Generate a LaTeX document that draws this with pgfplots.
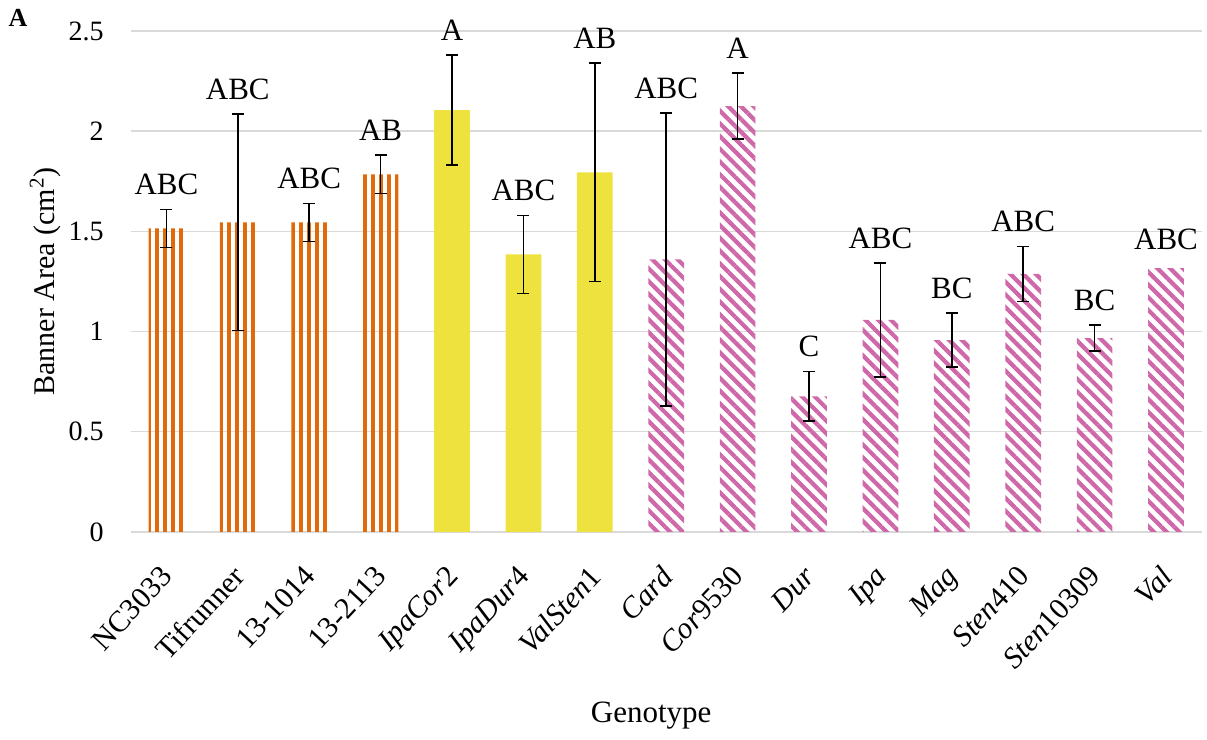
\documentclass[border=0pt]{standalone}
\usepackage{fontspec}
\setmainfont{Liberation Serif}
\usepackage{pgfplots}
\pgfplotsset{compat=1.18}
\usetikzlibrary{patterns,patterns.meta}

\definecolor{barorange}{RGB}{224,106,10}
\definecolor{baryellow}{RGB}{238,226,62}
\definecolor{barpink}{RGB}{206,104,168}
\definecolor{gridgray}{RGB}{217,217,217}

% vertical stripes drawn as filled rectangles (no seams between tiles)
\pgfdeclarepatternformonly{vstripes}{\pgfqpoint{0pt}{0pt}}{\pgfqpoint{4.1pt}{4.1pt}}{\pgfqpoint{4.1pt}{4.1pt}}{%
  \pgfpathrectangle{\pgfqpoint{0pt}{-0.5pt}}{\pgfqpoint{2.1pt}{5.1pt}}%
  \pgfusepath{fill}}

\begin{document}
\begin{tikzpicture}
\path[use as bounding box] (0,0) rectangle (603.5pt,370pt);
\node[anchor=center, font=\fontsize{13}{15}\selectfont\bfseries] at (9pt,361pt) {A};
\begin{axis}[
  at={(65.35pt,104pt)}, anchor=south west,
  scale only axis, width=535.5pt, height=250.5pt,
  xmin=-0.5, xmax=14.5, ymin=0, ymax=2.5,
  ytick={0,0.5,1,1.5,2,2.5},
  xtick={0,...,14},
  xticklabels={NC3033, Tifrunner, 13-1014, 13-2113,
    \textit{IpaCor}2, \textit{IpaDur}4, \textit{ValSten}1,
    \textit{Card}, \textit{Cor}9530, \textit{Dur}, \textit{Ipa},
    \textit{Mag}, \textit{Sten}410, \textit{Sten}10309, \textit{Val}},
  xticklabel style={rotate=47, anchor=north east, inner sep=2pt,
    xshift=-12pt, yshift=-6.2pt,
    font=\fontsize{15}{17}\selectfont},
  yticklabel style={font=\fontsize{14}{16}\selectfont, xshift=-10pt},
  /pgf/number format/assume math mode=true,
  ymajorgrids, grid style={gridgray, line width=0.7pt},
  axis line style={draw=none}, major tick length=0pt,
  ylabel={Banner Area (cm\textsuperscript{2})},
  ylabel style={at={(axis description cs:-0.08,0.5)}, anchor=center,
    font=\fontsize{15}{17}\selectfont},
  xlabel={Genotype},
  xlabel style={at={(axis description cs:0.5,0)}, anchor=center,
    yshift=-92pt, xshift=-7.5pt, font=\fontsize{15.5}{17}\selectfont},
  error bars/error bar style={line width=0.8pt, black},
  error bars/error mark options={rotate=90, mark size=3pt, line width=0.8pt, black},
]
% cultivated lines
\addplot[ybar, bar width=0.5, bar shift=0pt, draw=none,
  pattern=vstripes, pattern color=barorange,
  error bars/.cd, y dir=both, y explicit]
  coordinates {(0,1.515) +- (0,0.095) (1,1.545) +- (0,0.54)
               (2,1.545) +- (0,0.095) (3,1.785) +- (0,0.095)};
% induced allotetraploids
\addplot[ybar, bar width=0.5, bar shift=0pt, draw=none, fill=baryellow,
  error bars/.cd, y dir=both, y explicit]
  coordinates {(4,2.105) +- (0,0.275) (5,1.385) +- (0,0.195) (6,1.795) +- (0,0.545)};
% wild species
\addplot[ybar, bar width=0.5, bar shift=0pt, draw=none,
  pattern={Lines[angle=-45, distance=4.5pt, line width=2.1pt]}, pattern color=barpink,
  error bars/.cd, y dir=both, y explicit]
  coordinates {(7,1.36) +- (0,0.73) (8,2.125) +- (0,0.165) (9,0.677) +- (0,0.123)
               (10,1.058) +- (0,0.284) (11,0.958) +- (0,0.135) (12,1.288) +- (0,0.137)
               (13,0.968) +- (0,0.065)};
\addplot[ybar, bar width=0.5, bar shift=0pt, draw=none,
  pattern={Lines[angle=-45, distance=4.5pt, line width=2.1pt]}, pattern color=barpink]
  coordinates {(14,1.317)};
% significance letters
\addplot[only marks, mark=none, nodes near coords, point meta=explicit symbolic,
  nodes near coords style={anchor=south, inner sep=0pt, yshift=7pt,
    font=\fontsize{15.5}{18}\selectfont, text=black}]
  coordinates {(0,1.61)[ABC] (1,2.085)[ABC] (2,1.64)[ABC] (3,1.88)[AB]
               (4,2.38)[A] (5,1.58)[ABC] (6,2.34)[AB] (7,2.09)[ABC]
               (8,2.29)[A] (9,0.80)[C] (10,1.342)[ABC] (11,1.093)[BC]
               (12,1.425)[ABC] (13,1.033)[BC] (14,1.337)[ABC]};
\end{axis}
\end{tikzpicture}
\end{document}
